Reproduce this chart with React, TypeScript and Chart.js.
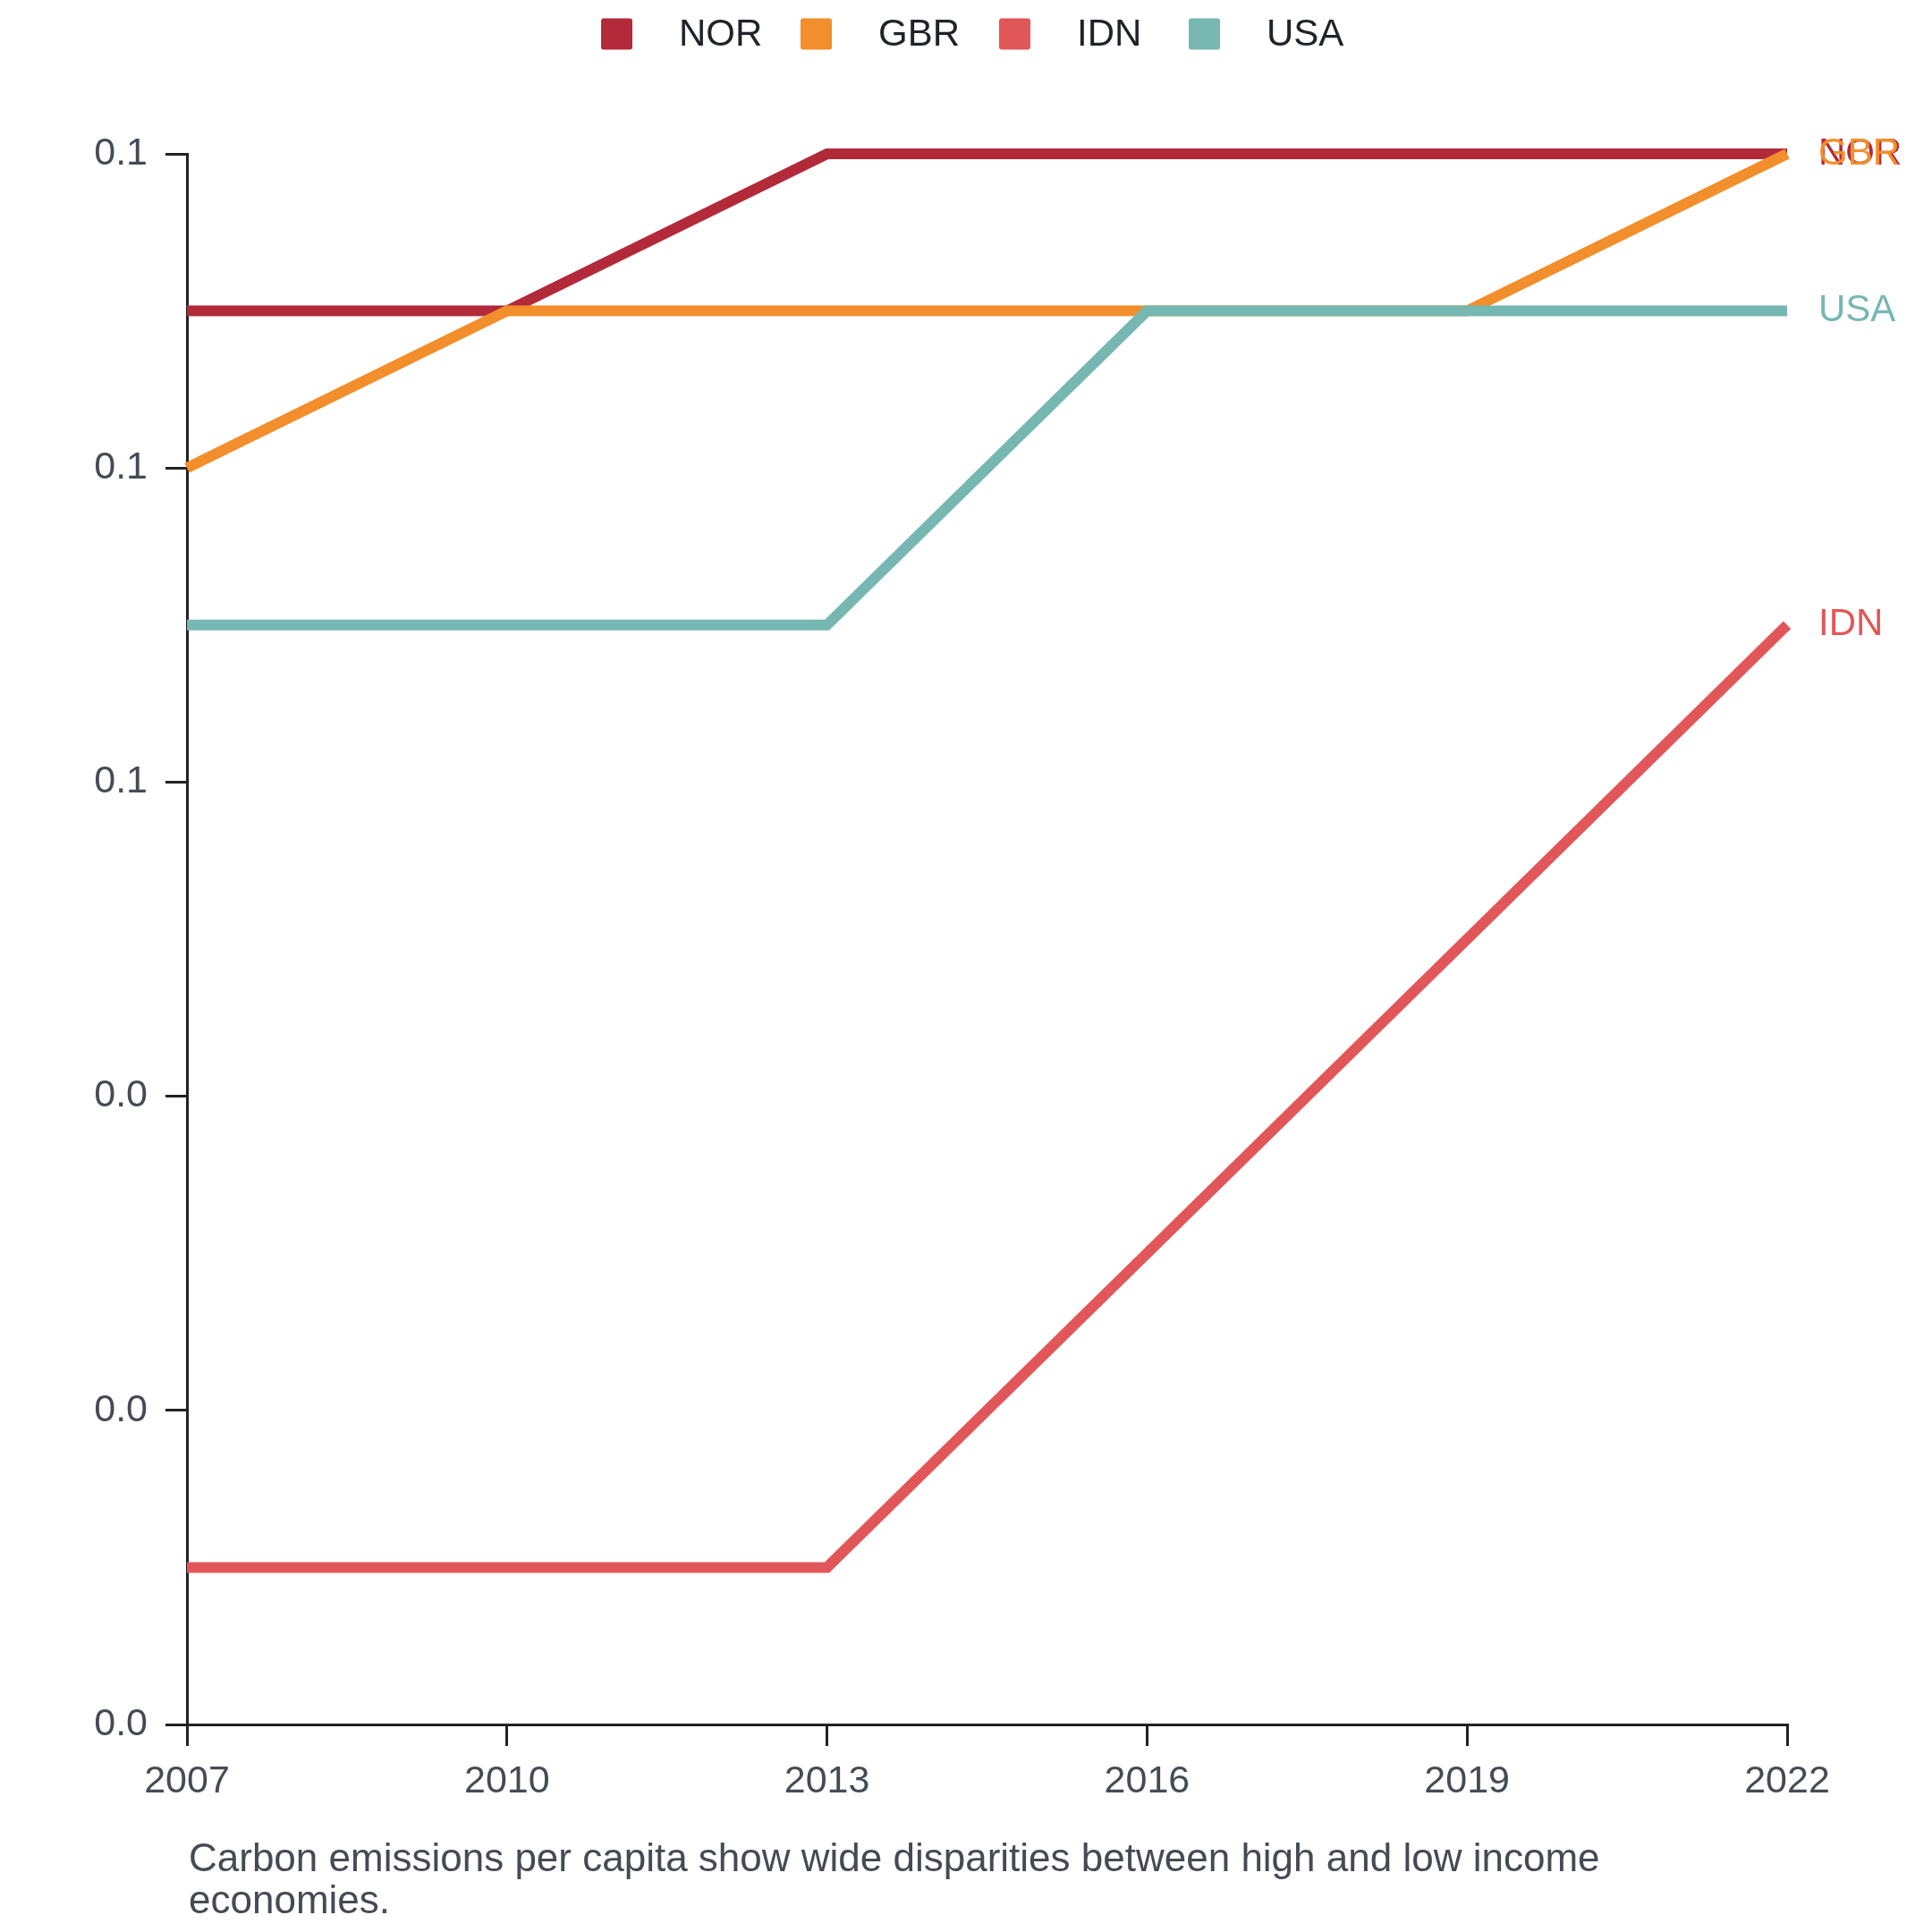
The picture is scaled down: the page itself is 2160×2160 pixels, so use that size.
import React, { useEffect, useRef } from 'react';
import { Chart, registerables } from 'chart.js';

Chart.register(...registerables);

const years = ['2007', '2010', '2013', '2016', '2019', '2022'];
const countries = ['NOR', 'GBR', 'IDN', 'USA'];
const norValues = [0.09, 0.09, 0.1, 0.1, 0.1, 0.1];
const gbrValues = [0.08, 0.09, 0.09, 0.09, 0.09, 0.1];
const idnValues = [0.01, 0.01, 0.01, 0.03, 0.05, 0.07];
const usaValues = [0.07, 0.07, 0.07, 0.09, 0.09, 0.09];
const seriesColors = ['#b22a3a', '#f28e2b', '#e15759', '#76b7b2'];
const yTickValues = [0, 0.02, 0.04, 0.06, 0.08, 0.1];
const caption = 'Carbon emissions per capita show wide disparities between high and low income economies.';

const FONT = "'Liberation Sans', Arial, Helvetica, sans-serif";
const W = 2160;
const H = 2160;
// legend layout (pixel positions of the swatches)
const LEGEND_BOX_X = [672, 895, 1117, 1329];

const overlayPlugin = {
  id: 'overlay',
  afterDatasetsDraw(chart: any) {
    const ctx = chart.ctx;
    ctx.save();
    ctx.font = `42px ${FONT}`;
    ctx.textBaseline = 'middle';
    ctx.textAlign = 'left';
    chart.data.datasets.forEach((ds: any, i: number) => {
      const meta = chart.getDatasetMeta(i);
      const pt = meta.data[meta.data.length - 1];
      if (!pt) return;
      ctx.fillStyle = ds.borderColor;
      ctx.fillText(ds.label, pt.x + 35, pt.y);
    });
    ctx.restore();
  },
  afterDraw(chart: any) {
    const ctx = chart.ctx;
    const area = chart.chartArea;
    ctx.save();
    // legend
    ctx.font = `42px ${FONT}`;
    const box = 35;
    const gapText = 52;
    const cy = 38;
    countries.forEach((c, i) => {
      const x = LEGEND_BOX_X[i];
      ctx.fillStyle = seriesColors[i];
      ctx.beginPath();
      if (ctx.roundRect) ctx.roundRect(x, cy - box / 2, box, box, 3);
      else ctx.rect(x, cy - box / 2, box, box);
      ctx.fill();
      ctx.fillStyle = '#20232a';
      ctx.textBaseline = 'middle';
      ctx.textAlign = 'left';
      ctx.fillText(c, x + box + gapText, cy + 1);
    });
    // caption
    ctx.font = `44px ${FONT}`;
    ctx.fillStyle = '#454b54';
    ctx.textBaseline = 'alphabetic';
    const maxW = area.right - area.left;
    const words = caption.split(' ');
    const lines: string[] = [];
    let cur = '';
    words.forEach((w) => {
      const t = cur ? cur + ' ' + w : w;
      if (ctx.measureText(t).width > maxW && cur) {
        lines.push(cur);
        cur = w;
      } else cur = t;
    });
    if (cur) lines.push(cur);
    lines.forEach((l, i) => ctx.fillText(l, area.left + 2, 2092 + i * 47));
    ctx.restore();
  },
};

export default function App() {
  const ref = useRef<HTMLCanvasElement | null>(null);
  useEffect(() => {
    if (!ref.current) return;
    const values = [norValues, gbrValues, idnValues, usaValues];
    const axisGrid = {
      display: true,
      drawOnChartArea: false,
      drawTicks: true,
      tickLength: 24,
      tickWidth: 3,
      color: '#222222',
      lineWidth: 3,
    };
    const chart = new Chart(ref.current, {
      type: 'line',
      data: {
        labels: years,
        datasets: countries.map((c, i) => ({
          label: c,
          data: values[i],
          borderColor: seriesColors[i],
          backgroundColor: seriesColors[i],
          borderWidth: 12,
          pointRadius: 0,
          pointHoverRadius: 0,
          tension: 0,
          fill: false,
          clip: false,
          order: countries.length - i,
        })),
      },
      options: {
        animation: false,
        responsive: false,
        devicePixelRatio: 1,
        layout: { padding: { top: 172, right: 162, bottom: 132, left: 0 } },
        plugins: {
          legend: { display: false },
          tooltip: { enabled: false },
          title: { display: false },
        },
        scales: {
          x: {
            type: 'category',
            offset: false,
            grid: axisGrid,
            border: { display: true, color: '#222222', width: 3 },
            ticks: {
              color: '#454b54',
              font: { family: FONT, size: 43 },
              padding: 14,
              maxRotation: 0,
              autoSkip: false,
            },
            afterFit: (s: any) => {
              s.height = 100;
            },
          },
          y: {
            min: 0,
            max: 0.1,
            afterBuildTicks: (s: any) => {
              s.ticks = yTickValues.map((v) => ({ value: v }));
            },
            grid: axisGrid,
            border: { display: true, color: '#222222', width: 3 },
            ticks: {
              color: '#454b54',
              font: { family: FONT, size: 43 },
              padding: 20,
              callback: (v: any) => Number(v).toFixed(1),
            },
            afterFit: (s: any) => {
              s.width = 209;
            },
          },
        },
      },
      plugins: [overlayPlugin],
    });
    return () => chart.destroy();
  }, []);
  return (
    <div style={{ position: 'fixed', left: 0, top: 0, width: W, height: H, background: '#ffffff' }}>
      <canvas ref={ref} width={W} height={H} style={{ display: 'block', width: W, height: H }} />
    </div>
  );
}
